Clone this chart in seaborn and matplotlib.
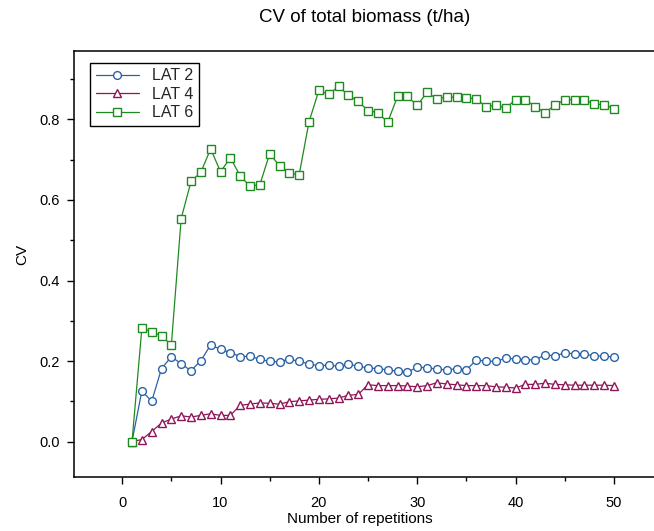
import numpy as np
import pandas as pd
import matplotlib
matplotlib.use("Agg")
import matplotlib.pyplot as plt
from matplotlib.ticker import MultipleLocator
import seaborn as sns

repetitions = list(range(1, 51))

lat2 = [0.000, 0.126, 0.100, 0.181, 0.211, 0.193, 0.176, 0.201, 0.240, 0.229,
        0.221, 0.211, 0.212, 0.204, 0.199, 0.198, 0.205, 0.199, 0.193, 0.188,
        0.190, 0.187, 0.192, 0.187, 0.183, 0.181, 0.178, 0.175, 0.172, 0.185,
        0.183, 0.180, 0.178, 0.181, 0.178, 0.202, 0.200, 0.199, 0.207, 0.205,
        0.203, 0.203, 0.215, 0.213, 0.220, 0.218, 0.217, 0.213, 0.212, 0.210]

lat4 = [0.000, 0.005, 0.025, 0.046, 0.056, 0.064, 0.061, 0.065, 0.069, 0.065,
        0.065, 0.090, 0.093, 0.096, 0.095, 0.093, 0.099, 0.101, 0.103, 0.105,
        0.106, 0.108, 0.115, 0.117, 0.141, 0.139, 0.139, 0.139, 0.138, 0.136,
        0.139, 0.146, 0.143, 0.141, 0.139, 0.139, 0.139, 0.136, 0.135, 0.133,
        0.142, 0.142, 0.145, 0.142, 0.141, 0.140, 0.140, 0.140, 0.140, 0.139]

lat6 = [0.000, 0.281, 0.273, 0.262, 0.240, 0.554, 0.646, 0.669, 0.727, 0.670,
        0.705, 0.660, 0.634, 0.638, 0.715, 0.685, 0.666, 0.663, 0.794, 0.872,
        0.862, 0.882, 0.860, 0.845, 0.822, 0.817, 0.793, 0.857, 0.857, 0.835,
        0.867, 0.851, 0.856, 0.855, 0.854, 0.851, 0.832, 0.835, 0.828, 0.849,
        0.849, 0.832, 0.817, 0.835, 0.849, 0.849, 0.849, 0.838, 0.837, 0.827]

series_names = ["LAT 2", "LAT 4", "LAT 6"]
series_values = [lat2, lat4, lat6]
series_colors = ["#2b62a6", "#8e1657", "#1f8a1f"]
series_markers = ["o", "^", "s"]

title = "CV of total biomass (t/ha)"
xlabel = "Number of repetitions"
ylabel = "CV"
xticks = [0, 10, 20, 30, 40, 50]
yticks = [0.0, 0.2, 0.4, 0.6, 0.8]

df = pd.DataFrame({
    "rep": repetitions * 3,
    "cv": lat2 + lat4 + lat6,
    "series": [n for n in series_names for _ in repetitions],
})

sns.set_theme(style="ticks")
plt.rcParams["font.family"] = ["Liberation Sans", "DejaVu Sans"]
plt.rcParams["axes.linewidth"] = 1.1

W, H = 654, 531
fig = plt.figure(figsize=(W / 100, H / 100), dpi=100)
ax_left, ax_right, ax_top, ax_bottom = 74, 663, 51, 477
ax = fig.add_axes([ax_left / W, 1 - ax_bottom / H,
                   (ax_right - ax_left) / W, (ax_bottom - ax_top) / H])

for name, color, marker in zip(series_names, series_colors, series_markers):
    sub = df[df["series"] == name]
    sns.lineplot(data=sub, x="rep", y="cv", ax=ax, color=color, marker=marker,
                 markersize=5.6 if marker != "^" else 5.2, markerfacecolor="white",
                 markeredgecolor=color, markeredgewidth=1.0, linewidth=0.9,
                 label=name, estimator=None, errorbar=None)

ax.set_xlim(-4.9, 55.0)
ax.set_ylim(-0.088, 0.970)
ax.set_xticks(xticks)
ax.set_yticks(yticks)
ax.set_yticklabels([f"{v:.1f}" for v in yticks])
ax.xaxis.set_minor_locator(MultipleLocator(5))
ax.yaxis.set_minor_locator(MultipleLocator(0.1))
ax.tick_params(axis="both", which="major", direction="out", length=5,
               width=1.0, labelsize=10.5, color="black", labelcolor="black")
ax.tick_params(axis="both", which="minor", direction="out", length=3,
               width=1.0, color="black")
ax.tick_params(axis="x", which="major", pad=9)
ax.tick_params(axis="y", which="major", pad=5)
for s in ax.spines.values():
    s.set_color("black")

ax.set_xlabel(xlabel, fontsize=11, color="black")
ax.set_ylabel(ylabel, fontsize=11, color="black")
ax.xaxis.set_label_coords((360 - ax_left) / (ax_right - ax_left),
                          (ax_bottom - 519) / (ax_bottom - ax_top))
ax.xaxis.label.set_va("center")
ax.yaxis.set_label_coords((22 - ax_left) / (ax_right - ax_left),
                          (ax_bottom - 254) / (ax_bottom - ax_top))
ax.yaxis.label.set_va("center")

fig.text(365 / W, 1 - 18 / H, title, ha="center", va="center", fontsize=13.5,
         color="black")

leg = ax.legend(loc="upper left",
                bbox_to_anchor=((90 - ax_left) / (ax_right - ax_left),
                                (ax_bottom - 62.7) / (ax_bottom - ax_top)),
                borderaxespad=0, frameon=True, fancybox=False, shadow=False,
                framealpha=1, edgecolor="black", fontsize=11.5,
                handlelength=2.7, handletextpad=0.85, labelspacing=0.22,
                borderpad=0.35)
leg.get_frame().set_linewidth(1.0)

fig.savefig("out.png", dpi=100)
